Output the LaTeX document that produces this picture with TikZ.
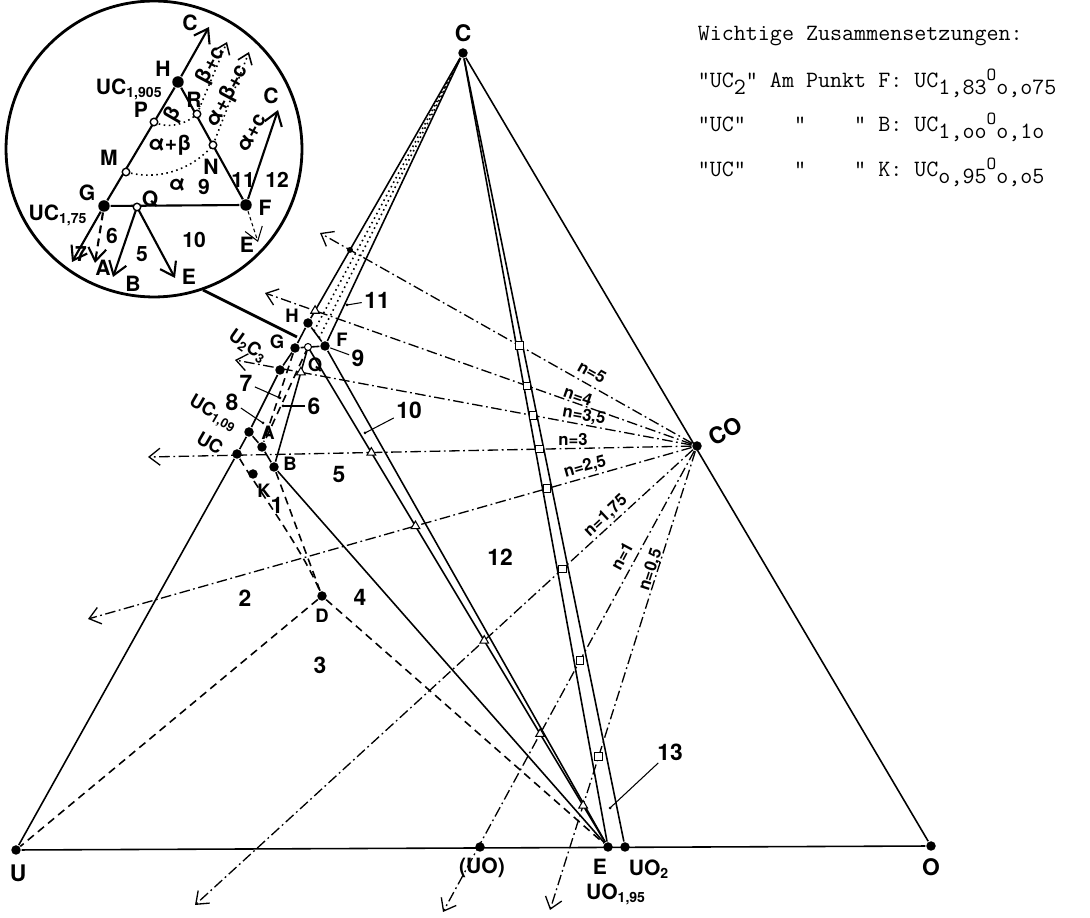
\documentclass[tikz,border=0pt]{standalone}
\usepackage{fontspec}
\setsansfont{TeX Gyre Heros}
\usetikzlibrary{arrows.meta, shapes.geometric, calc}
\newcommand\tlow[1]{\raisebox{-0.6ex}{#1}}
\newcommand\thigh[1]{\raisebox{0.7ex}{\fontsize{10.5}{11}\selectfont #1}}

\begin{document}
\begin{tikzpicture}[x=0.02cm, y=-0.02cm, line width=0.9pt,
    dotpt/.style={circle, fill, inner sep=0pt, minimum size=0.19cm},
    ring/.style={circle, draw, fill=white, inner sep=0pt, minimum size=0.14cm, line width=0.6pt},
    sqmark/.style={rectangle, draw, fill=white, inner sep=0pt, minimum size=0.15cm, line width=0.6pt},
    trimark/.style={regular polygon, regular polygon sides=3, draw, fill=white, inner sep=0pt, minimum size=0.2cm, line width=0.6pt},
    big/.style={font=\sffamily\bfseries\fontsize{13}{15}\selectfont, inner sep=1pt},
    lbl/.style={font=\sffamily\bfseries\fontsize{10.5}{12}\selectfont, inner sep=1pt},
    ilbl/.style={font=\sffamily\bfseries\fontsize{12}{14}\selectfont, inner sep=1pt},
    nlbl/.style={font=\sffamily\bfseries\fontsize{9.5}{11}\selectfont, inner sep=0pt},
    tt/.style={font=\ttfamily\fontsize{13.3}{15}\selectfont, inner sep=0pt, anchor=base west},
    dashdot/.style={dash pattern=on 6pt off 2pt on 1pt off 2pt, line width=0.75pt},
    dsh/.style={dash pattern=on 4.5pt off 3pt},
    barb/.style={-{Straight Barb[length=0.22cm, width=0.34cm]}},
    ibarb/.style={line width=1.2pt, -{Straight Barb[length=0.26cm, width=0.36cm]}},
    leader/.style={line width=0.6pt}]
  \useasboundingbox (0,0) rectangle (1090,918);

  % Eckpunkte
  \node[dotpt] (U) at (16,850) {};
  \node[dotpt] (O) at (931,846) {};
  \node[dotpt] (C) at (463,53) {};
  \node[dotpt] (CO) at (697,446) {};
  \node[dotpt] (UO) at (480,847) {};
  \node[dotpt] (E) at (608,847) {};
  \node[dotpt] (UOtwo) at (625,847) {};
  \coordinate (Emid) at (616,847);

  % Punkte bei UC
  \node[dotpt] (UC) at (237,454) {};
  \node[dotpt] (UCa) at (249,432) {};
  \node[dotpt] (UtwoCthree) at (280,370) {};
  \node[dotpt] (G) at (295,348) {};
  \node[dotpt] (H) at (308,323) {};
  \node[dotpt] (F) at (325,346) {};
  \coordinate (Q) at (308,347);
  \node[dotpt] (A) at (262,447) {};
  \node[dotpt] (B) at (274,467) {};
  \node[dotpt] (K) at (253,474) {};
  \node[dotpt] (D) at (322,596) {};

  % Enden der Strahlen von CO
  \coordinate (e5) at (320,233);
  \coordinate (e4) at (265,293);
  \coordinate (e35) at (235,360);
  \coordinate (e3) at (148,457);
  \coordinate (e25) at (88,619);
  \coordinate (e175) at (195,905);
  \coordinate (e1) at (443,912);
  \coordinate (e05) at (550,910);

  % Dreieck U-C-O
  \draw (U) -- (O);
  \draw (C) -- (O);
  \draw (U) -- (UC) -- (UCa) -- (UtwoCthree) -- (G) -- (H);
  \draw (H) -- (C);
  \draw (F) -- (C);
  \draw[dotted] ($(H)!.35!(F)$) -- (C);
  \draw[dotted] ($(H)!.65!(F)$) -- (C);
  \draw (C) -- (E);
  \draw (C) -- (UOtwo);

  % Felder bei UC
  \draw (G) -- (F);
  \draw (H) -- (F);
  \draw (Q) -- (B);
  \draw (Q) -- (E);
  \draw (F) -- (E);
  \draw (B) -- (E);
  \draw (UCa) -- (A) -- (B);
  \draw[dsh] (G) -- (A);
  \draw[dsh] (Q) -- (A);
  \draw[dsh] (UC) .. controls (255,485) and (300,545) .. (D);
  \draw[dsh] (B) -- (D);
  \draw[dsh] (D) -- (U);
  \draw[dsh] (D) -- (E);

  % Strahlen
  \foreach \e in {e5,e4,e35,e3,e25,e175,e1,e05}
    \draw[dashdot, barb] (CO) -- (\e);

  \node[ring] (Qm) at (Q) {};
  \foreach \e in {5,4,35,3,25,175,1,05}
    \node[sqmark] (s\e) at (intersection cs: first line={(CO.center)--(e\e)}, second line={(C.center)--(Emid)}) {};
  \node[dotpt, minimum size=0.12cm] (t5) at (intersection cs: first line={(CO.center)--(e5)}, second line={(H.center)--(C.center)}) {};
  \node[trimark] (t4) at (intersection cs: first line={(CO.center)--(e4)}, second line={(H.center)--(C.center)}) {};
  \node[trimark] (t35) at (intersection cs: first line={(CO.center)--(e35)}, second line={(B.center)--(Q)}) {};
  \foreach \e in {3,25,175,1,05}
    \node[trimark] (t\e) at (intersection cs: first line={(CO.center)--(e\e)}, second line={(Q)--(E.center)}) {};

  % Beschriftung
  \node[big] (lC) at (463,33) {C};
  \node[big] (lU) at (18,873) {U};
  \node[big] (lO) at (931,867) {O};
  \node[big, rotate=27] (lCO) at (725,431) {CO};
  \node[ilbl] (lUO) at (482,868) {(UO)};
  \node[ilbl] (lE) at (600,867) {E};
  \node[ilbl] (lUOtwo) at (649,869) {UO\textsubscript{2}};
  \node[ilbl] (lUOe) at (616,894) {UO\textsubscript{1,95}};
  \node[lbl] (lD) at (322,616) {D};
  \node[lbl] (lK) at (264,491) {K};
  \node[lbl] (lB) at (290,464) {B};
  \node[lbl] (lA) at (268,433) {A};
  \node[lbl] (lG) at (277,342) {G};
  \node[lbl] (lH) at (292,316) {H};
  \node[lbl] (lF) at (342,340) {F};
  \node[lbl] (lQ) at (315,365) {Q};
  \node[lbl, rotate=-30] (lUC) at (210,443) {UC};
  \node[lbl, rotate=-30] (lUCa) at (213,414) {UC\textsubscript{1,09}};
  \node[lbl, rotate=-35] (lUtwoCthree) at (248,346) {U\textsubscript{2}C\textsubscript{3}};

  \node[big] (r1) at (277,505) {1};
  \node[big] (r2) at (245,598) {2};
  \node[big] (r3) at (320,665) {3};
  \node[big] (r4) at (360,597) {4};
  \node[big] (r5) at (339,475) {5};
  \node[big] (r12) at (500,557) {12};
  \node[big] (r6) at (314,406) {6};
  \node[big] (r7) at (246,383) {7};
  \node[big] (r8) at (232,402) {8};
  \node[big] (r9) at (358,358) {9};
  \node[big] (r10) at (409,410) {10};
  \node[big] (r11) at (377,300) {11};
  \node[big] (r13) at (670,752) {13};
  \coordinate (p6) at (283,406);
  \coordinate (p7) at (280,398);
  \coordinate (p8) at (263,423);
  \coordinate (p10) at (365,433);
  \coordinate (p11) at (347,305);
  \coordinate (p13) at (610,808);
  \foreach \r in {6,7,8,10,11,13} {
    \draw[leader] (r\r) -- (p\r);
    \fill (p\r) circle (1.5);
  }
  \draw[leader] (r9) -- (F);

  \node[nlbl, rotate=-29] (n5) at (592,372) {n=5};
  \node[nlbl, rotate=-19] (n4) at (578,396) {n=4};
  \node[nlbl, rotate=-10] (n35) at (584,416) {n=3,5};
  \node[nlbl] (n3) at (573,440) {n=3};
  \node[nlbl, rotate=16] (n25) at (585,467) {n=2,5};
  \node[nlbl, rotate=43] (n175) at (606,516) {n=1,75};
  \node[nlbl, rotate=62] (n1) at (622,556) {n=1};
  \node[nlbl, rotate=72] (n05) at (651,570) {n=0,5};

  % Lupe
  \node[circle, draw, line width=1.6pt, minimum size=5.92cm, inner sep=0pt] (lens) at (154,149) {};
  \coordinate (lensout) at (203,290);
  \coordinate (lensin) at (297,337);
  \draw[line width=1.6pt] (lensout) -- (lensin);

  \node[dotpt, minimum size=0.23cm] (iG) at (104,206) {};
  \node[dotpt, minimum size=0.23cm] (iH) at (178,82) {};
  \node[dotpt, minimum size=0.23cm] (iF) at (246,205) {};
  \coordinate (iQ) at (137,207);
  \coordinate (iP) at (154,122);
  \coordinate (iM) at (126,172);
  \coordinate (iR) at (197,114);
  \coordinate (iN) at (213,145);
  \coordinate (iCa) at (209,27);
  \coordinate (iCb) at (278,110);
  \coordinate (iEa) at (258,242);
  \coordinate (iEb) at (175,278);
  \coordinate (iB) at (113,277);
  \coordinate (iSeven) at (72,262);
  \coordinate (iA) at (95,263);
  \coordinate (iTa) at (227,42);
  \coordinate (iTb) at (249,52);

  \draw[line width=1.2pt] (iG) -- (iH);
  \draw[line width=1.2pt] (iH) -- (iF);
  \draw[line width=1.2pt] (iG) -- (iF);
  \draw[ibarb] (iH) -- (iCa);
  \draw[ibarb] (iF) -- (iCb);
  \draw[ibarb, line width=0.6pt, dash pattern=on 2pt off 1.5pt] (iF) -- (iEa);
  \draw[ibarb] (iQ) -- (iEb);
  \draw[ibarb] (iQ) -- (iB);
  \draw[ibarb] (iG) -- (iSeven);
  \draw[ibarb, dsh] (iG) -- (iA);
  \draw[dotted, line width=0.9pt] (iP) .. controls (168,129) and (185,125) .. (iR);
  \draw[dotted, line width=0.9pt] (iM) .. controls (158,181) and (192,170) .. (iN);
  \draw[dotted, line width=0.9pt, -{Straight Barb[length=0.2cm, width=0.3cm]}] (iR) -- (iTa);
  \draw[dotted, line width=0.9pt, -{Straight Barb[length=0.2cm, width=0.3cm]}] (iN) -- (iTb);
  \foreach \p in {iQ,iP,iM,iR,iN}
    \node[ring, minimum size=0.15cm, line width=0.8pt] at (\p) {};

  \node[ilbl] (liCa) at (190,23) {C};
  \node[ilbl] (liCb) at (271,96) {C};
  \node[ilbl] (liH) at (163,69) {H};
  \node[ilbl, anchor=east] (liUCh) at (165,89) {UC\textsubscript{1,905}};
  \node[ilbl] (liP) at (141,110) {P};
  \node[ilbl] (liR) at (194,100) {R};
  \node[ilbl] (liM) at (109,158) {M};
  \node[ilbl] (liN) at (211,167) {N};
  \node[ilbl] (liG) at (87,193) {G};
  \node[ilbl] (liUCg) at (58,215) {UC\textsubscript{1,75}};
  \node[ilbl] (liQ) at (150,199) {Q};
  \node[ilbl] (liF) at (265,208) {F};
  \node[ilbl] (liSeven) at (81,254) {7};
  \node[ilbl] (liA) at (103,268) {A};
  \node[ilbl] (liB) at (133,284) {B};
  \node[ilbl] (liEb) at (189,277) {E};
  \node[ilbl] (liEa) at (247,245) {E};
  \node[ilbl] (liSix) at (112,236) {6};
  \node[ilbl] (liFive) at (142,254) {5};
  \node[ilbl] (liTen) at (194,240) {10};
  \node[ilbl] (liAlpha) at (177,185) {α};
  \node[ilbl] (liNine) at (204,187) {9};
  \node[ilbl] (liEleven) at (243,180) {11};
  \node[ilbl] (liTwelve) at (277,180) {12};
  \node[ilbl] (liAB) at (170,145) {α+β};
  \node[ilbl, rotate=60] (liB1) at (174,115) {β};
  \node[ilbl, rotate=62] (liBC) at (211,66) {β+c};
  \node[ilbl, rotate=62] (liABC) at (228,96) {α+β+c};
  \node[ilbl, rotate=62] (liAC) at (252,133) {α+c};

  % Tabelle
  \node[tt] (head) at (697,41) {Wichtige Zusammensetzungen:};
  \node[tt] (rowF) at (697,88) {"UC\tlow{2}" Am Punkt F: UC\tlow{1,83}\thigh{O}\tlow{o,o75}};
  \node[tt] (rowB) at (697,132) {"UC"~~~~"~~~~"~B: UC\tlow{1,oo}\thigh{O}\tlow{o,1o}};
  \node[tt] (rowK) at (697,177) {"UC"~~~~"~~~~"~K: UC\tlow{o,95}\thigh{O}\tlow{o,o5}};
\end{tikzpicture}
\end{document}
